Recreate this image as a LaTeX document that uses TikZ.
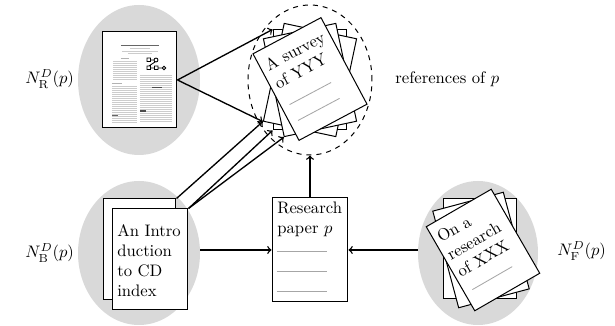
\documentclass[tikz,border=0pt]{standalone}
\usetikzlibrary{shapes.geometric}
\begin{document}
\begin{tikzpicture}[x=0.6pt,y=-0.6pt,
  blob/.style={ellipse, fill=gray!30, draw=none, inner sep=0},
  paper/.style={draw, fill=white, line width=0.6pt, inner sep=0},
  std/.style={minimum width=44.4pt, minimum height=60pt},
  tl/.style={gray!40, line width=0.25pt},
  gl/.style={gray!70, line width=0.5pt},
  conn/.style={->, line width=0.8pt},
  lab/.style={anchor=base west, inner sep=0}]
\useasboundingbox (0,0) rectangle (615,326);

% gray blobs
\node[blob, minimum width=73.2pt, minimum height=90pt] (eR) at (139,80) {};
\node[blob, minimum width=73.2pt, minimum height=86.4pt] (eB) at (139,253) {};
\node[blob, minimum width=72pt, minimum height=86.4pt] (eF) at (478,253) {};

% references (dashed)
\node[ellipse, draw, dashed, line width=0.6pt, minimum width=74.4pt, minimum height=90pt, inner sep=0] (refs) at (310,80) {};

% thumbnail paper
\node[paper, minimum width=45pt, minimum height=57.6pt] (thumb) at (139.5,80) {};
\draw[black!60, line width=0.45pt] (121,45) -- (159,45);
\draw[tl] (130,48.5) -- (150,48.5) (122,51) -- (158,51) (128,53.5) -- (152,53.5);
\draw[gray!60, line width=0.4pt] (121,58) -- (129,58);
\foreach \y in {61,63,...,79} \draw[tl] (113,\y) -- (137,\y);
\draw[gray!60, line width=0.4pt] (112,83) -- (122,83);
\foreach \y in {86,88,...,122} \draw[tl] (112,\y) -- (137,\y);
\foreach \y in {75,77,...,122} \draw[tl] (140,\y) -- (172,\y);
\draw[black, line width=0.5pt] (147,58) rectangle (150.5,61.5) (156,60) circle (2)
  (147,66) rectangle (150.5,69.5) (154.5,66) rectangle (158,69.5) (164,68) circle (1.8)
  (150.5,60) -- (154,60) (150.5,68) -- (154.5,68) (158,68) -- (162.2,68) (155,62) -- (149,66);
\fill[black!70] (140,110.5) rectangle (146,112);
\fill[black!60] (112,115) rectangle (118,116.3);
\fill[black!70] (152,87.5) rectangle (162,88.5);

% bottom-left papers
\node[paper, minimum width=43.8pt, minimum height=60.6pt] (bback) at (139.5,249.5) {};
\node[paper, minimum width=45.6pt, minimum height=60.6pt] (bfront) at (150,259.5) {};
\node[anchor=west, align=left, inner sep=0] (btext) at (117,261) {An Intro\\duction\\to CD\\index};

% research paper
\node[paper, minimum width=45.6pt, minimum height=62.4pt] (rp) at (310,250) {};
\node[anchor=north west, align=left, inner sep=0] (rptext) at (277,202) {Research\\paper $p$};
\draw[gl] (277,251) -- (327,251) (277,271) -- (327,271) (277,291) -- (327,291);

% survey stack
\node[paper, std] (s0) at (310,80) {};
\node[paper, std, rotate=-12] (s1) at (310,80) {};
\node[paper, std, rotate=12] (s2) at (310,80) {};
\node[paper, minimum width=46.2pt, minimum height=58.8pt, rotate=28] (sf) at (310,79) {};
\begin{scope}[shift={(310,79)}, rotate=28, transform shape]
  \node[anchor=base west, inner sep=0] (st1) at (-33,-26) {A survey};
  \node[anchor=base west, inner sep=0] (st2) at (-33,-6) {of YYY};
  \draw[gl] (-30,13) -- (17,13) (-30,31) -- (17,31);
\end{scope}

% right stack
\node[paper, minimum width=43.8pt, minimum height=60pt] (r0) at (480,249) {};
\node[paper, minimum width=43.8pt, minimum height=60pt, rotate=15] (r1) at (481,250) {};
\node[paper, minimum width=45pt, minimum height=58.2pt, rotate=30] (rf) at (483,250) {};
\begin{scope}[shift={(483,250)}, rotate=30, transform shape]
  \node[anchor=base west, inner sep=0] (rt1) at (-33,-27) {On a};
  \node[anchor=base west, inner sep=0] (rt2) at (-33,-7) {research};
  \node[anchor=base west, inner sep=0] (rt3) at (-33,13) {of XXX};
  \draw[gl] (-29,29) -- (17,29);
\end{scope}

% labels
\node[lab] (lR) at (25,84) {$N^{D}_{\mathrm{R}}(p)$};
\node[lab] (lB) at (25,258) {$N^{D}_{\mathrm{B}}(p)$};
\node[lab] (lF) at (557,256) {$N^{D}_{\mathrm{F}}(p)$};
\node[lab] (lref) at (395,84) {references of $p$};

% connectors
\draw[conn] (thumb.east) -- (s0.north west);
\draw[conn] (thumb.east) -- (s1.south west);
\draw[conn] (bback.north east) -- (s1.south west);
\draw[conn] (bfront.north east) -- (s0.south west);
\draw[conn] (bfront.north east) -- (s2.south west);
\draw[conn] (rp.north) -- (refs.south);
\draw[conn] (rp.west -| eB.east) -- (rp.west);
\draw[conn] (rp.east -| eF.west) -- (rp.east);
\end{tikzpicture}
\end{document}
